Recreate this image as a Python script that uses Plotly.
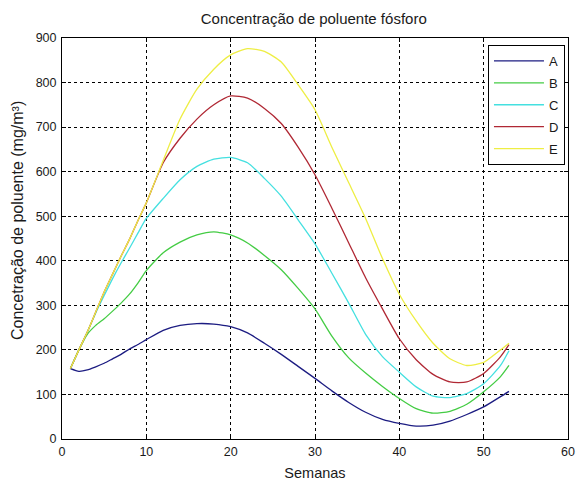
import plotly.graph_objects as go

weeks = [1, 2, 3, 4, 5, 6, 7, 8, 9, 10, 12, 14, 16, 18, 20, 22, 24, 26, 28, 30, 32, 34, 36, 38, 40, 42, 44, 46, 48, 50, 52, 53]

serie_a = [158, 152, 155, 162, 170, 180, 190, 202, 212, 223, 244, 255, 259, 258, 252, 238, 215, 190, 163, 136, 108, 82, 60, 44, 35, 29, 31, 40, 55, 72, 95, 107]
serie_b = [158, 200, 235, 255, 270, 287, 305, 325, 350, 378, 418, 442, 458, 465, 458, 440, 412, 380, 338, 292, 231, 182, 148, 118, 91, 68, 58, 62, 78, 106, 140, 165]
serie_c = [158, 200, 240, 283, 322, 360, 395, 428, 462, 495, 540, 582, 612, 628, 632, 620, 585, 545, 492, 438, 372, 305, 235, 185, 150, 117, 96, 93, 102, 124, 165, 198]
serie_d = [158, 200, 240, 285, 330, 370, 410, 448, 490, 530, 620, 675, 718, 750, 770, 765, 742, 708, 655, 593, 518, 440, 362, 292, 225, 178, 145, 128, 128, 147, 185, 212]
serie_e = [158, 200, 240, 285, 330, 370, 410, 448, 490, 530, 625, 718, 785, 830, 862, 876, 870, 846, 795, 739, 655, 575, 495, 405, 325, 265, 215, 180, 165, 172, 200, 215]

names = ["A", "B", "C", "D", "E"]
colors = ["#1c1c82", "#44cc44", "#44e0e0", "#b02834", "#eeee44"]
series = [serie_a, serie_b, serie_c, serie_d, serie_e]

x_ticks = [0, 10, 20, 30, 40, 50, 60]
y_ticks = [0, 100, 200, 300, 400, 500, 600, 700, 800, 900]

fig = go.Figure()
for name, color, vals in zip(names, colors, series):
    fig.add_trace(go.Scatter(x=weeks, y=vals, mode="lines", name=name, legendgroup=name,
                             line=dict(color=color, width=1.3, shape="spline", smoothing=0.6)))

font_family = "Liberation Sans, Arial, sans-serif"
txt_color = "#1a1a1a"
axis_common = dict(
    showline=True, linecolor="black", linewidth=1, mirror="ticks",
    ticks="inside", ticklen=4, tickcolor="black",
    showgrid=True, gridcolor="black", gridwidth=1, griddash="3px,3px",
    zeroline=False, ticklabeloverflow="allow", automargin=False,
    tickfont=dict(family=font_family, size=12.5, color=txt_color),
)

fig.update_layout(
    width=581, height=481,
    margin=dict(l=62, r=13, t=38, b=42),
    paper_bgcolor="white", plot_bgcolor="white",
    title=dict(text="Concentração de poluente fósforo", x=0.54, xanchor="center",
               y=1 - 19 / 481, yanchor="middle", automargin=False,
               font=dict(family=font_family, size=15, color=txt_color)),
    xaxis=dict(range=[0, 60], tickvals=x_ticks, ticktext=[str(v) for v in x_ticks],
               ticklabelstandoff=1,
               title=dict(text="Semanas", standoff=10, font=dict(family=font_family, size=14.5, color=txt_color)),
               **axis_common),
    yaxis=dict(range=[0, 900], tickvals=y_ticks, ticktext=[str(v) for v in y_ticks],
               ticklabelstandoff=2,
               **axis_common),
    annotations=[dict(text="Concetração de poluente (mg/m³)", textangle=-90,
                      xref="paper", yref="paper", x=0, y=0.5436, xanchor="center", yanchor="middle",
                      xshift=-45, showarrow=False,
                      font=dict(family=font_family, size=16, color=txt_color))],
    legend=dict(x=0.994, y=0.9825, xanchor="right", yanchor="top",
                bordercolor="black", borderwidth=1, bgcolor="white",
                font=dict(family=font_family, size=13, color=txt_color),
                tracegroupgap=2, itemwidth=50),
    showlegend=True,
)

fig.write_html("out.html", config={"displayModeBar": False},
               post_script="document.body.style.margin='0';")
